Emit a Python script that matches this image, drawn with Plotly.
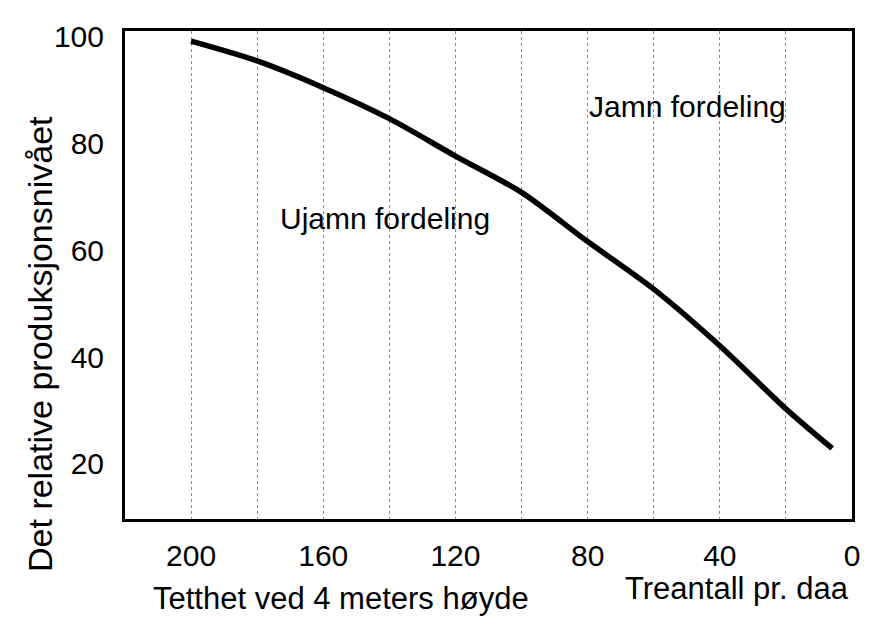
import plotly.graph_objects as go

# Data
tree_count = [200, 180, 160, 140, 120, 100, 80, 60, 40, 20, 6]
relative_production = [99.1, 95.4, 90.4, 84.6, 77.6, 70.8, 61.6, 52.7, 42.1, 30.3, 22.9]

x_tick_values = [200, 160, 120, 80, 40, 0]
y_tick_values = [20, 40, 60, 80, 100]

label_uneven = "Ujamn fordeling"
label_even = "Jamn fordeling"
y_title = "Det relative produksjonsnivået"
x_title_left = "Tetthet ved 4 meters høyde"
x_title_right = "Treantall pr. daa"

FONT = "Liberation Sans, Arial, Helvetica, sans-serif"

fig = go.Figure()
fig.add_trace(go.Scatter(
    x=tree_count, y=relative_production, mode="lines",
    line=dict(color="black", width=5.5, shape="spline", smoothing=0.8),
    hoverinfo="skip", showlegend=False,
))

# page body adds an 8px offset, so the figure is sized to fit the window
fig.update_layout(
    width=864, height=612,
    margin=dict(l=117, r=14, t=14, b=101),
    paper_bgcolor="white", plot_bgcolor="white",
    font=dict(family=FONT, size=30, color="black"),
    showlegend=False,
)

fig.update_xaxes(
    range=[220, 0],
    tickvals=x_tick_values, ticktext=[str(v) for v in x_tick_values],
    showgrid=True, gridcolor="#8a8a8a", gridwidth=1, griddash="dot",
    minor=dict(dtick=20, tick0=0, showgrid=True, gridcolor="#8a8a8a",
               gridwidth=1, griddash="dot", ticks=""),
    showline=True, linecolor="black", linewidth=3, mirror=True,
    ticks="", ticklabelstandoff=8, zeroline=False,
    tickfont=dict(size=30, family=FONT, color="black"),
)
fig.update_yaxes(
    range=[9.7, 101],
    tickvals=y_tick_values, ticktext=[str(v) for v in y_tick_values],
    showgrid=False,
    showline=True, linecolor="black", linewidth=3, mirror=True,
    ticks="", ticklabelstandoff=12, zeroline=False,
    tickfont=dict(size=30, family=FONT, color="black"),
)

common = dict(showarrow=False, xanchor="center", yanchor="middle")
fig.add_annotation(x=141.4, y=66, xref="x", yref="y", text=label_uneven,
                   font=dict(size=30, family=FONT, color="black"), **common)
fig.add_annotation(x=49.8, y=86.8, xref="x", yref="y", text=label_even,
                   font=dict(size=30, family=FONT, color="black"), **common)
fig.add_annotation(x=154.7, y=-0.163, xref="x", yref="paper", text=x_title_left,
                   font=dict(size=31, family=FONT, color="black"), **common)
fig.add_annotation(x=34.8, y=-0.143, xref="x", yref="paper", text=x_title_right,
                   font=dict(size=31, family=FONT, color="black"), **common)
fig.add_annotation(x=-0.116, y=0.358, xref="paper", yref="paper", text=y_title,
                   textangle=-90, font=dict(size=34, family=FONT, color="black"),
                   **common)

fig.write_html("out.html")
